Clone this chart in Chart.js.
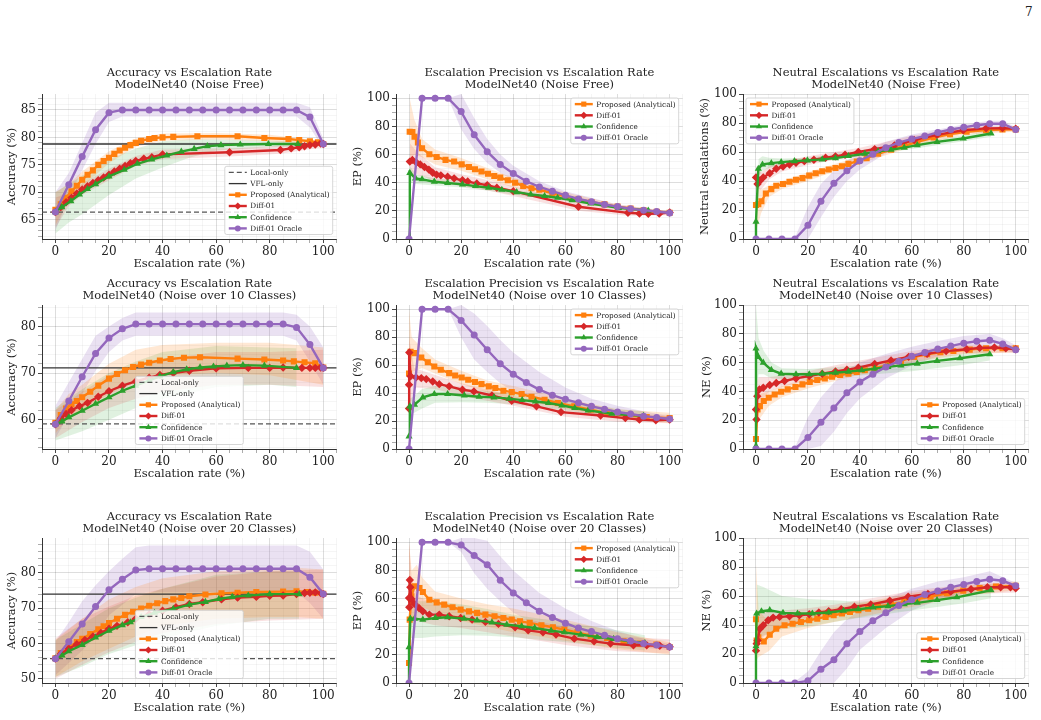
<!DOCTYPE html>
<html>
<head>
<meta charset="utf-8">
<title>ModelNet40 escalation results</title>
<script src="https://cdn.jsdelivr.net/npm/chart.js@4.4.1/dist/chart.umd.min.js"></script>
<style>
  body { margin: 0; background: #fff; }
  #page { position: relative; width: 1041px; height: 720px; overflow: hidden; }
  #page canvas { position: absolute; }
  #pageNo { position: absolute; left: 1025px; top: 5px; font: 12px "DejaVu Serif", serif; color: #222; }
</style>
</head>
<body>
<div id="page">
  <div id="pageNo">7</div>
</div>
<script>
// ---- data (x = escalation rate %) ----
// bands are [x, lower, upper]

const oracleX = [0, 5, 10, 15, 20, 25, 30, 35, 40, 45, 50, 55, 60, 65, 70, 75, 80, 85, 90, 95, 100];

// Noise free - accuracy
const nfAccLocal = 66.4;
const nfAccVfl = 78.8;
const nfAccPropX = [0, 2, 4, 6, 8, 10, 12, 14, 16, 18, 20, 22, 24, 26, 28, 30, 32, 35, 37, 40, 44, 53, 68, 78, 87, 91, 95, 98, 100];
const nfAccPropY = [66.8, 67.8, 69.0, 70.2, 71.2, 72.3, 73.2, 74.0, 75.0, 75.7, 76.3, 77.0, 77.6, 78.1, 78.6, 79.0, 79.4, 79.7, 79.9, 80.0, 80.1, 80.2, 80.2, 79.9, 79.7, 79.5, 79.3, 79.1, 78.8];
const nfAccPropBand = [[0, 64, 70], [5, 68.5, 71.5], [10, 71, 73.8], [20, 75.3, 77.5], [30, 78.3, 79.8], [40, 79.4, 80.7], [60, 79.6, 80.8], [80, 79.3, 80.5], [100, 78.3, 79.3]];
const nfAccDiffX = [0, 2, 4, 6, 8, 10, 12, 14, 16, 18, 20, 22, 24, 26, 28, 30, 33, 36, 40, 65, 84, 88, 91, 93, 95, 97, 99, 100];
const nfAccDiffY = [66.4, 67.3, 68.2, 69.0, 69.8, 70.5, 71.1, 71.7, 72.2, 72.7, 73.2, 73.8, 74.3, 74.8, 75.3, 75.7, 76.1, 76.4, 76.9, 77.3, 77.7, 78.0, 78.2, 78.4, 78.6, 78.7, 78.9, 78.8];
const nfAccDiffBand = [[0, 63.5, 69], [5, 67.5, 70], [10, 69.5, 71.6], [20, 72.2, 74.3], [30, 74.8, 76.6], [40, 76, 77.8], [65, 76.5, 78], [84, 77, 78.5], [100, 78.2, 79.4]];
const nfAccConfX = [0, 2.4, 5.8, 9, 12, 15, 20, 25.7, 30.6, 36, 41.6, 47, 51.8, 56.7, 61.8, 69, 79.5, 90.5];
const nfAccConfY = [66.4, 67.3, 68.4, 69.6, 70.6, 71.5, 72.9, 74.1, 75.2, 76.0, 76.7, 77.4, 77.9, 78.4, 78.6, 78.7, 78.8, 78.8];
const nfAccConfBand = [[0, 62.5, 70], [5, 64.5, 71.5], [10, 66, 73], [20, 69.5, 76], [30, 72.5, 78], [40, 74.5, 79.3], [50, 76.3, 79.6], [60, 77.6, 79.6], [80, 78.2, 79.4], [90.5, 78.3, 79.3]];
const nfAccOracY = [66.4, 71.4, 76.5, 81.4, 84.5, 85, 85, 85, 85, 85, 85, 85, 85, 85, 85, 85, 85, 85, 85, 83.7, 78.8];
const nfAccOracBand = [[0, 63, 70], [5, 69, 73.5], [10, 74, 79], [15, 78.8, 84.5], [20, 82.8, 86.3], [25, 83.8, 86.3], [90, 83.8, 86.3], [95, 81.8, 85.5], [100, 78, 79.8]];

// Noise free - escalation precision
const nfEpPropX = [0.25, 1.3, 2.1, 3.4, 5, 7.8, 10.6, 14, 17.3, 20.2, 23, 25.3, 27.8, 30.3, 32.7, 35, 37.9, 40.7, 43.8, 47, 50, 55, 60, 65, 70, 75, 80, 85, 90, 95, 100];
const nfEpPropY = [76.2, 76, 72.6, 68.6, 64.5, 60.2, 58.3, 56.2, 55, 53, 51.2, 49.5, 47.9, 46.4, 44.8, 43.6, 41.7, 40, 37.6, 36, 35, 32.5, 30.3, 28.2, 26.3, 24.6, 23, 21.7, 20.4, 19.4, 18.6];
const nfEpPropBand = [[0.25, 55, 100], [2, 60, 85], [5, 58, 71], [10, 53, 63.5], [20, 48.5, 57.5], [30, 42.5, 50.5], [40, 36.5, 43.5], [60, 28, 33], [80, 21.5, 24.5], [100, 17.5, 19.7]];
const nfEpDiffX = [0.3, 1.3, 2.8, 4.3, 5.9, 7.6, 9.1, 10.6, 12.2, 14.8, 17.3, 20.5, 22.5, 26, 30, 33.7, 40, 65, 84, 88.4, 91.8, 96, 100];
const nfEpDiffY = [55, 56.2, 54.3, 53, 51.2, 49.3, 47.1, 45.7, 45.2, 44.3, 43.1, 41.7, 40.8, 39.5, 38.3, 36.4, 34, 22.9, 18.6, 18.1, 17.9, 18, 18.8];
const nfEpDiffBand = [[0.3, 45, 68], [3, 46, 62], [10, 41, 51], [20, 37.5, 46], [30, 34.5, 42], [40, 30.5, 37.5], [65, 20, 26], [84, 16.5, 21], [100, 16.8, 20.5]];
const nfEpConfX = [0, 0.3, 2.5, 5, 9.7, 14.8, 20.5, 25.5, 30.5, 35.6, 41.3, 46.7, 52, 57, 62.5, 69.7, 80.4, 91.8];
const nfEpConfY = [0, 47, 43, 42.4, 40.7, 39.8, 38.8, 37.6, 36.4, 35, 33.3, 31.7, 30.5, 29.3, 27.6, 25.2, 22.1, 20.2];
const nfEpConfBand = [[0.3, 40, 52], [2.5, 39, 46], [10, 38, 43], [20, 36.5, 41.5], [30, 34.5, 38.5], [40, 31.5, 35], [60, 27, 30.5], [80, 21, 23.5], [91.8, 19, 21.5]];
const nfEpOracY = [0, 100, 100, 100, 90.5, 74, 62, 53, 46.5, 41, 37, 34, 31, 28.5, 26.5, 24.5, 23, 21.5, 20.5, 19.5, 18.5];
const nfEpOracBand = [[15, 100, 100], [20, 78, 103], [25, 64, 86], [30, 54, 71], [35, 47, 60], [40, 41.5, 52], [50, 33.5, 41], [60, 28.5, 34], [80, 21.5, 24.5], [100, 17.5, 19.5]];

// Noise free - neutral escalations
const nfNePropX = [0, 0.9, 2.1, 3.8, 5.9, 7.8, 10.4, 12.9, 15.4, 17.9, 20.5, 23, 25.5, 28, 30.6, 33.1, 35.6, 38.8, 42.6, 47, 52, 57.1, 62.1, 68.4, 74.7, 81.1, 88.6, 94.9, 100];
const nfNePropY = [23.5, 24, 26, 31.4, 34.4, 36.7, 37.9, 39.5, 40.9, 42, 43.7, 45.3, 46.7, 47.9, 49, 50.2, 51.8, 53.5, 55.8, 58.8, 61.6, 64.2, 67, 70, 72.3, 74, 75.1, 75.5, 75.6];
const nfNePropBand = [[0, 5, 40], [2, 18, 34], [5, 29, 37], [10, 34.5, 40], [20, 40, 46], [30, 46.5, 51.5], [40, 52, 57], [60, 63.5, 68], [80, 72, 76], [100, 74, 77]];
const nfNeDiffX = [0, 0.6, 1.5, 2.8, 5.3, 7.8, 10.4, 12.9, 15.4, 18.6, 22.3, 26.8, 30.6, 34.3, 39.4, 45.7, 53.3, 60.9, 69.7, 79.8, 88.6, 94.9, 100];
const nfNeDiffY = [42.5, 37.9, 40.2, 42.5, 45.3, 48.4, 50, 51.4, 52.6, 53.7, 54.7, 56, 57, 58.1, 60, 62, 64.5, 68.3, 71.8, 75, 76.3, 76.5, 76];
const nfNeDiffBand = [[0, 35, 50], [2, 34, 46], [5, 41, 50], [10, 46.5, 53.5], [20, 51, 57], [30, 54.5, 60], [40, 57, 63], [60, 65.5, 71], [80, 73, 77.5], [100, 74.5, 78]];
const nfNeConfX = [0, 0, 0.9, 2.5, 5.9, 9.7, 14.8, 19.8, 25.5, 30.6, 35.6, 41.9, 47, 52, 57.1, 62.1, 69.7, 79.8, 90.5];
const nfNeConfY = [0, 12, 48.4, 51.4, 52.3, 53, 53.7, 54.2, 54.9, 55.8, 57.2, 58.8, 60.5, 61.6, 63, 64.7, 67, 69.3, 72.8];
const nfNeConfBand = [[0.9, 43, 55], [2.5, 47, 57], [5, 49, 56], [10, 51, 55.5], [20, 52.3, 56], [40, 57, 61], [60, 62, 66], [80, 67.5, 71.5], [90.5, 70.5, 75]];
const nfNeOracY = [0, 0, 0, 0, 9.5, 26, 38.5, 47, 54, 58.5, 63, 66.5, 69, 71, 73.5, 75.5, 77, 78.5, 79.5, 79.5, 75.5];
const nfNeOracBand = [[15, 0, 1], [20, 0, 22], [25, 15, 38], [30, 29, 47], [35, 40, 54], [40, 48, 60], [50, 59, 67], [60, 66, 72], [80, 75, 79], [90, 77.5, 81.5], [95, 77.5, 81.5], [100, 74, 77]];

// Noise over 10 classes - accuracy
const n10AccLocal = 59.1;
const n10AccVfl = 71.1;
const n10AccPropX = [0, 2, 4, 6, 8, 10, 13, 16, 20, 23, 26, 29, 32, 35, 39, 43, 48, 54, 68, 78, 85, 89, 93, 97, 100];
const n10AccPropY = [59.3, 61.0, 62.4, 63.3, 64.0, 64.8, 66.0, 67.3, 68.8, 69.8, 70.6, 71.3, 71.8, 72.2, 72.7, 73.0, 73.3, 73.4, 73.1, 72.9, 72.7, 72.5, 72.3, 72.1, 71.2];
const n10AccPropBand = [[0, 57, 62], [5, 60.5, 65.5], [10, 62, 67.5], [20, 65.5, 72], [30, 68, 75], [40, 69.5, 76], [60, 70, 76.5], [80, 69.5, 76.5], [90, 68.5, 76], [100, 67.5, 75.5]];
const n10AccDiffX = [0, 2, 4, 6, 9, 12, 16, 20, 25, 30, 35, 39, 44, 50, 60, 72, 80, 85, 92, 95, 97, 99, 100];
const n10AccDiffY = [59, 60.3, 61.2, 62, 62.9, 63.6, 64.9, 66.1, 67.3, 68.2, 69, 69.6, 70, 70.5, 71, 71.1, 71.1, 71.2, 71.1, 71.1, 71.1, 71.2, 71.1];
const n10AccDiffBand = [[0, 56, 62], [10, 59.5, 66], [20, 62.5, 69.5], [30, 64.5, 72], [40, 66, 73], [60, 67.5, 74.5], [80, 67.5, 74.5], [100, 67, 75]];
const n10AccConfX = [0, 2.5, 5, 10, 15, 20, 25, 30, 35, 39, 44, 49, 54, 59, 64, 70, 78, 90];
const n10AccConfY = [59, 59.6, 60.5, 61.9, 63.4, 64.8, 66.2, 67.3, 68.4, 69.3, 70.2, 70.8, 71.2, 71.4, 71.6, 71.7, 71.6, 71.1];
const n10AccConfBand = [[0, 55.5, 62.5], [10, 57.5, 66.5], [20, 60, 70], [30, 62.5, 72.5], [40, 64.5, 74.5], [60, 67, 75.8], [80, 67.5, 75.5], [90, 67, 75.3]];
const n10AccOracY = [59, 64, 69.2, 74.2, 77.5, 79.5, 80.5, 80.5, 80.5, 80.5, 80.5, 80.5, 80.5, 80.5, 80.5, 80.5, 80.5, 80.5, 79.8, 76.1, 71.1];
const n10AccOracBand = [[0, 56, 63], [5, 61, 68], [10, 65.5, 73], [15, 70.5, 78], [20, 74.5, 80], [25, 77, 81.8], [30, 78, 83], [85, 78, 83], [90, 77, 82.5], [95, 72.5, 80], [100, 67.5, 75.5]];

// Noise over 10 classes - escalation precision
const n10EpPropX = [0, 0.6, 2.1, 4.7, 7.2, 9.7, 12.2, 15.4, 17.7, 20.2, 22.7, 25.3, 27.8, 30.6, 33.1, 36.2, 39.4, 43.2, 47, 52, 57.1, 63.4, 69.7, 76, 83.6, 91.2, 100];
const n10EpPropY = [54, 69.6, 68.6, 65.5, 62.1, 59, 56.7, 54.3, 52.6, 51.2, 49.5, 47.9, 46.4, 44.8, 43.6, 41.7, 40.7, 39.3, 37.4, 35.2, 32.9, 30.5, 28.1, 25.7, 24, 22.9, 22.1];
const n10EpPropBand = [[0, 40, 100], [1, 55, 80], [5, 58, 72], [10, 54, 64], [20, 46.5, 56], [30, 40.5, 49], [40, 36, 45], [60, 29, 36], [80, 22, 28.5], [100, 18.5, 26]];
const n10EpDiffX = [0, 0, 0.1, 0.6, 2.7, 4.7, 6.6, 9.1, 11.6, 15.4, 20.5, 24.9, 31.8, 39.4, 48.9, 58.3, 73.5, 83, 88.4, 94.7, 100];
const n10EpDiffY = [29, 46, 69, 52, 51.2, 50.7, 50, 48.3, 46.4, 44.8, 42.4, 41.2, 38.3, 34.5, 30.5, 26.4, 24, 22.1, 21, 20.5, 21];
const n10EpDiffBand = [[0, 25, 80], [2, 44, 58], [10, 43, 53], [20, 38, 47], [30, 34.5, 42.5], [40, 31, 38], [60, 23, 29.5], [80, 19.5, 25], [100, 18.5, 24]];
const n10EpConfX = [0, 0.3, 2.1, 5.3, 9.7, 14.8, 21.2, 26.9, 32.6, 38.4, 43.4, 48.5, 53.5, 58.6, 63.6, 68.7, 77.8, 90];
const n10EpConfY = [9, 30.5, 31.7, 36.9, 39.3, 39.3, 38.3, 37.4, 36.9, 36, 35, 34, 32.9, 31.2, 29.3, 27.6, 25.2, 23.8];
const n10EpConfBand = [[0.3, 25, 36], [2, 26, 38], [5, 29, 43], [10, 33, 45], [20, 33.5, 43.5], [30, 33, 41.5], [40, 32, 39.5], [60, 27.5, 34.5], [80, 22, 28.5], [90, 20, 27]];
const n10EpOracY = [0, 100, 100, 100, 92, 81.5, 71, 61, 53.5, 47.5, 42.5, 38.5, 35.5, 33, 30.5, 28.5, 26.5, 25, 23.5, 22.5, 21.5];
const n10EpOracBand = [[15, 100, 100], [20, 80, 103], [25, 64, 97], [30, 55, 88], [35, 47, 78], [40, 41, 69], [50, 34, 55], [60, 29.5, 44], [70, 26.5, 36], [80, 24, 31], [90, 21.5, 27], [100, 20, 23.5]];

// Noise over 10 classes - neutral escalations
const n10NePropX = [0, 0.6, 1.5, 3, 4.9, 7.2, 9.7, 12.2, 15.2, 17.9, 20.7, 23.6, 26.5, 29.3, 32.4, 35.6, 38.8, 41.9, 45.7, 50.8, 55.8, 60.9, 65.9, 71, 76, 82.3, 88.6, 94.9, 100];
const n10NePropY = [7, 27.4, 29.8, 33.3, 35.6, 37.9, 39.8, 41.4, 43, 44.9, 46.5, 47.9, 49, 50.2, 51.4, 52.3, 53.5, 54.7, 56, 58.4, 61.2, 64, 65.8, 67.2, 68.1, 69, 70, 70, 70];
const n10NePropBand = [[0, 15, 45], [1, 20, 38], [5, 30, 40], [10, 36, 43.5], [20, 42, 49.5], [30, 47, 53], [40, 51.5, 56.5], [60, 60, 66], [80, 66, 71], [100, 67, 72]];
const n10NeDiffX = [0, 0.2, 0.5, 1.3, 2.8, 5.3, 7.8, 11, 15.4, 20.5, 25.5, 30.6, 35, 39.4, 45.7, 52, 58.8, 65.9, 73.2, 81.1, 86.1, 91.8, 96.2, 100];
const n10NeDiffY = [27.4, 20.5, 36.7, 41.4, 42.5, 44.4, 45.8, 47.2, 49, 50.7, 52.3, 53.8, 55, 56.5, 59, 61.5, 64, 66.2, 68, 69.3, 70.2, 70.5, 70, 69.3];
const n10NeDiffBand = [[0, 15, 45], [1, 30, 50], [5, 40, 50], [10, 43, 51], [20, 47.5, 54], [30, 51, 58], [40, 54.5, 61.5], [60, 61.5, 68], [80, 66.5, 72.5], [100, 67, 72]];
const n10NeConfX = [0, 0, 0.9, 2.8, 5.9, 9.7, 15.4, 20.5, 25.5, 30.6, 35.6, 40.7, 45.7, 50.8, 55.8, 62.1, 69.7, 78.5, 90];
const n10NeConfY = [2, 69.8, 64, 60, 54.9, 52.3, 51.9, 51.9, 52.3, 53, 53.7, 54.7, 55.8, 57, 58.1, 59.3, 61.2, 63, 65.8];
const n10NeConfBand = [[0, 40, 100], [1, 52, 77], [3, 52, 68], [6, 49, 60], [10, 48.5, 56], [20, 48.5, 55.5], [40, 51, 58], [60, 54, 61.5], [80, 58.5, 66.5], [90, 61.5, 70]];
const n10NeOracY = [0, 0, 0, 0, 8, 18.5, 28.5, 39, 46.5, 52, 57, 61, 64.5, 67, 69.5, 71.5, 73.5, 74.8, 75.5, 73, 69];
const n10NeOracBand = [[15, 0, 1], [20, 0, 22], [25, 2, 36], [30, 12, 46], [35, 25, 55], [40, 35, 60], [50, 49, 66], [60, 58, 71], [70, 64.5, 75], [80, 69, 78.5], [90, 71, 80], [95, 69, 77], [100, 66.5, 72]];

// Noise over 20 classes - accuracy
const n20AccLocal = 55.7;
const n20AccVfl = 74.0;
const n20AccPropX = [0, 2, 5, 8, 10, 13, 16, 18, 20, 23, 26, 29, 32, 35, 38, 41, 44, 47, 50, 56, 62, 68, 75, 85, 90, 94, 97, 100];
const n20AccPropY = [55.8, 57.3, 58.9, 60.4, 61.3, 62.7, 64.0, 64.9, 65.8, 67.0, 68.1, 69.0, 69.9, 70.7, 71.4, 72.0, 72.5, 72.9, 73.4, 73.9, 74.2, 74.4, 74.6, 74.7, 74.8, 74.6, 74.4, 74.1];
const n20AccPropBand = [[0, 50.5, 61], [10, 55, 67], [20, 58.5, 72.5], [30, 62, 76], [40, 65, 78.5], [60, 67, 80.5], [80, 67.5, 81], [90, 67.5, 81.5], [100, 67, 81]];
const n20AccDiffX = [0, 2, 5, 8, 11, 14, 17, 20, 23, 27, 30, 35, 40, 45, 50, 55, 62, 68, 75, 80, 85, 90, 93, 95, 97, 99, 100];
const n20AccDiffY = [55.7, 57, 58.5, 59.8, 61, 62, 63, 64.2, 65, 66, 67, 68.2, 69.3, 70.3, 71.2, 71.7, 72.5, 73, 73.2, 73.5, 73.6, 74, 74.3, 74.4, 74.5, 74.3, 74];
const n20AccDiffBand = [[0, 50, 61.5], [10, 54, 67], [20, 57.5, 70.5], [30, 60.5, 73.5], [40, 63, 75.5], [60, 65.5, 79], [80, 66.5, 80.5], [100, 67, 81]];
const n20AccConfX = [0, 2.5, 5, 10, 15, 20, 25, 28, 32, 37, 44, 50, 56, 61, 66, 72, 80, 91];
const n20AccConfY = [55.7, 56.6, 57.8, 59.6, 61.7, 63.6, 65.2, 66, 67.5, 68.7, 69.8, 71, 71.8, 72.6, 73.2, 73.6, 74, 74];
const n20AccConfBand = [[0, 50.5, 61], [10, 53.5, 65.5], [20, 57, 70], [30, 59.5, 73], [40, 61.5, 75.5], [60, 65, 79.5], [80, 67, 80.5], [91, 67, 80.5]];
const n20AccOracY = [55.7, 60.5, 65.5, 70.5, 75.2, 78.2, 80.8, 81.2, 81.2, 81.2, 81.2, 81.2, 81.2, 81.2, 81.2, 81.2, 81.2, 81.2, 81.2, 78.8, 74];
const n20AccOracBand = [[0, 51, 60.5], [5, 54.5, 66], [10, 58, 72], [15, 62, 76.5], [20, 68, 80.5], [25, 71, 84], [30, 74, 87.3], [35, 74.5, 87.8], [90, 74.5, 87.8], [95, 71.5, 86], [100, 67, 81]];

// Noise over 20 classes - escalation precision
const n20EpPropX = [0, 0.25, 0.9, 2.1, 4, 5.3, 7.8, 10.6, 13.5, 16.7, 19.8, 23, 26.1, 29.3, 32.8, 36.2, 39.4, 42.6, 46.3, 50.8, 55.2, 59.6, 64.6, 69.7, 76, 82.3, 88.6, 94.9, 100];
const n20EpPropY = [14.2, 45, 61.6, 68.7, 67.5, 64.7, 59.2, 57.3, 55.7, 53.8, 52.1, 50.9, 49.8, 48.6, 47.4, 46.2, 45, 43.8, 42.7, 41, 39.6, 37.9, 36, 33.6, 32, 29.6, 28, 27.3, 25.6];
const n20EpPropBand = [[0, 0, 100], [1, 40, 80], [3, 52, 84], [5, 54, 75], [10, 50, 65], [20, 44, 60], [30, 40, 56], [40, 36, 53], [60, 30, 45], [80, 24, 36], [100, 20, 29]];
const n20EpDiffX = [0, 0.1, 0.3, 0.5, 0.9, 2.1, 3.8, 5.3, 7.8, 11.6, 15.4, 19.8, 24.2, 29.3, 34.3, 40.7, 45.7, 51.4, 56.4, 63.4, 71, 77.3, 86.1, 91.2, 96.2, 100];
const n20EpDiffY = [60.4, 53.8, 73.2, 68, 59.7, 56.2, 53.3, 50.9, 48.6, 48.6, 47.4, 46.2, 45, 43.4, 42, 39.6, 37.4, 36, 34.4, 31.5, 29.6, 28, 26.8, 26.8, 26.5, 25.8];
const n20EpDiffBand = [[0, 40, 100], [1, 45, 75], [3, 44, 62], [10, 41, 56], [20, 39, 53], [30, 36, 51], [40, 33, 47], [60, 27, 40], [80, 22.5, 33], [100, 21, 31]];
const n20EpConfX = [0, 0, 0.5, 2.1, 5.3, 10.1, 14.8, 21.1, 26.1, 31.8, 37.5, 43.2, 48.2, 54.5, 59.6, 65.9, 72.2, 78.5, 84.8, 90.5];
const n20EpConfY = [0, 25.4, 45.7, 45.7, 45, 46.2, 46.7, 45.7, 44.5, 43.1, 41.5, 40.3, 39.1, 37.2, 36, 34.4, 32.7, 31.3, 29.6, 28.4];
const n20EpConfBand = [[0.5, 32, 58], [5, 32, 58], [10, 33, 58], [20, 34, 56], [30, 33.5, 52.5], [40, 32.5, 48.5], [60, 29, 43], [80, 25, 37.5], [90.5, 23, 34]];
const n20EpOracY = [0, 100, 100, 100, 98, 90.5, 84, 73, 64, 57, 51, 46.5, 42.5, 39, 36.5, 34, 31.5, 29.8, 28, 27, 25.5];
const n20EpOracBand = [[15, 100, 100], [20, 93, 103], [25, 78, 103], [30, 67, 101], [35, 58, 90], [40, 50, 80], [50, 40, 64], [60, 34, 53], [70, 30, 44], [80, 27, 37], [90, 25, 31.5], [100, 23.5, 27.5]];

// Noise over 20 classes - neutral escalations
const n20NePropX = [0, 0.25, 0.9, 3, 5.3, 7.8, 11, 14.1, 17.3, 20.5, 23.6, 26.8, 29.9, 33.1, 36.2, 39.4, 43.2, 47, 52, 57.1, 62.1, 67.2, 73.5, 79.8, 86.1, 92.4, 100];
const n20NePropY = [44, 29.3, 31.6, 28.6, 33.3, 37.4, 39.8, 40.9, 42.1, 43.3, 44.4, 45.6, 46.7, 47.9, 49, 50.2, 51.2, 52.6, 54.2, 56, 57.9, 59.5, 61.9, 63.7, 65.5, 66.5, 67];
const n20NePropBand = [[0, 15, 82], [1, 18, 50], [5, 22, 42], [10, 32, 46], [20, 38, 49], [30, 42, 52], [40, 45.5, 55], [60, 52.5, 62], [80, 60, 67], [100, 64, 70]];
const n20NeDiffX = [0, 0.25, 0.6, 1.5, 2.8, 4.7, 6.6, 9.1, 12.9, 16.7, 20.5, 24.2, 28, 32.8, 37.9, 44.2, 51.5, 58.6, 66.2, 75, 82.8, 89.1, 94.2, 98, 100];
const n20NeDiffY = [22.3, 27, 29.3, 37.4, 39.8, 43.3, 45.1, 45.6, 46, 46.7, 47.4, 48.6, 49.5, 50.9, 52.6, 54.2, 56.7, 59.5, 61.4, 63, 64.7, 66, 66, 66, 65.3];
const n20NeDiffBand = [[0, 15, 35], [1, 28, 50], [3, 32, 50], [10, 40, 50], [20, 43, 51.5], [30, 46, 54], [40, 49, 57], [60, 55.5, 63.5], [80, 61, 68], [100, 62.5, 69]];
const n20NeConfX = [0, 0, 0.25, 2.1, 5.3, 10.4, 16, 21.7, 28, 33.7, 39.4, 45.1, 50.8, 57.1, 62.1, 69.7, 77.3, 90.5];
const n20NeConfY = [0, 25.3, 47.9, 49.5, 50.2, 48.4, 47.9, 47.9, 48.6, 49.8, 50.9, 52.1, 53, 54.4, 55.3, 57.2, 59.1, 64];
const n20NeConfBand = [[0.25, 30, 68], [3, 33, 66], [10, 37, 60], [20, 39, 58], [30, 42, 57], [40, 45, 56], [60, 50, 59], [80, 55, 63], [90.5, 58.5, 68]];
const n20NeOracY = [0, 0, 0, 0, 1.5, 9.5, 16, 27, 35.5, 43, 48.5, 53.5, 57.5, 61, 63.5, 66, 68, 70, 71.5, 70.5, 67];
const n20NeOracBand = [[15, 0, 1], [20, 0, 8], [25, 0, 22], [30, 0, 35], [35, 10, 44], [40, 23, 50], [50, 38, 58], [60, 50, 65], [70, 57, 70], [80, 62, 73], [90, 66, 77], [100, 65, 69]];

// ---- styling / layout ----
const FONT = '"DejaVu Serif", "Liberation Serif", serif';

const SERIES = [
    { label: "Proposed (Analytical)", color: "#ff7f0e", band: "rgba(255,127,14,0.18)", style: "rect", r: 4.3, order: 4 },
    { label: "Diff-01", color: "#d62728", band: "rgba(214,39,40,0.14)", style: "rectRot", r: 4.2, order: 3 },
    { label: "Confidence", color: "#2ca02c", band: "rgba(44,160,44,0.15)", style: "triangle", r: 4.1, order: 2 },
    { label: "Diff-01 Oracle", color: "#9467bd", band: "rgba(148,103,189,0.2)", style: "circle", r: 3.5, order: 1 },
];

const COLS = [
    { left: 0, yW: 42, w: 299 },
    { left: 350, yW: 46, w: 291 },
    { left: 696, yW: 47, w: 290 },
];
const ROWS = [
    { plotTop: 94, h: 145 },
    { plotTop: 305, h: 144 },
    { plotTop: 538, h: 145 },
];
const TITLE_H = 34;
const XAXIS_H = 36;

const PANELS = [
    {
        row: 0, col: 0, title: ["Accuracy vs Escalation Rate", "ModelNet40 (Noise Free)"],
        yTitle: "Accuracy (%)", yPad: 4.8, y: [61.5, 87.9, 5, 1], legend: "lower right", refs: [nfAccLocal, nfAccVfl],
        series: [[nfAccPropX, nfAccPropY, nfAccPropBand], [nfAccDiffX, nfAccDiffY, nfAccDiffBand], [nfAccConfX, nfAccConfY, nfAccConfBand], [oracleX, nfAccOracY, nfAccOracBand]],
    },
    {
        row: 0, col: 1, title: ["Escalation Precision vs Escalation Rate", "ModelNet40 (Noise Free)"],
        yTitle: "EP (%)", yPad: 1.4, y: [0, 103, 20, 5], legend: "upper right",
        series: [[nfEpPropX, nfEpPropY, nfEpPropBand], [nfEpDiffX, nfEpDiffY, nfEpDiffBand], [nfEpConfX, nfEpConfY, nfEpConfBand], [oracleX, nfEpOracY, nfEpOracBand]],
    },
    {
        row: 0, col: 2, title: ["Neutral Escalations vs Escalation Rate", "ModelNet40 (Noise Free)"],
        yTitle: "Neutral escalations (%)", yPad: 2.1, y: [0, 100, 20, 5], legend: "upper left",
        series: [[nfNePropX, nfNePropY, nfNePropBand], [nfNeDiffX, nfNeDiffY, nfNeDiffBand], [nfNeConfX, nfNeConfY, nfNeConfBand], [oracleX, nfNeOracY, nfNeOracBand]],
    },
    {
        row: 1, col: 0, title: ["Accuracy vs Escalation Rate", "ModelNet40 (Noise over 10 Classes)"],
        yTitle: "Accuracy (%)", yPad: 4.8, y: [53.7, 84.6, 10, 2], legend: "lower center", refs: [n10AccLocal, n10AccVfl],
        series: [[n10AccPropX, n10AccPropY, n10AccPropBand], [n10AccDiffX, n10AccDiffY, n10AccDiffBand], [n10AccConfX, n10AccConfY, n10AccConfBand], [oracleX, n10AccOracY, n10AccOracBand]],
    },
    {
        row: 1, col: 1, title: ["Escalation Precision vs Escalation Rate", "ModelNet40 (Noise over 10 Classes)"],
        yTitle: "EP (%)", yPad: 1.4, y: [0, 103, 20, 5], legend: "upper right",
        series: [[n10EpPropX, n10EpPropY, n10EpPropBand], [n10EpDiffX, n10EpDiffY, n10EpDiffBand], [n10EpConfX, n10EpConfY, n10EpConfBand], [oracleX, n10EpOracY, n10EpOracBand]],
    },
    {
        row: 1, col: 2, title: ["Neutral Escalations vs Escalation Rate", "ModelNet40 (Noise over 10 Classes)"],
        yTitle: "NE (%)", yPad: 3.8, y: [0, 100, 20, 5], legend: "lower right",
        series: [[n10NePropX, n10NePropY, n10NePropBand], [n10NeDiffX, n10NeDiffY, n10NeDiffBand], [n10NeConfX, n10NeConfY, n10NeConfBand], [oracleX, n10NeOracY, n10NeOracBand]],
    },
    {
        row: 2, col: 0, title: ["Accuracy vs Escalation Rate", "ModelNet40 (Noise over 20 Classes)"],
        yTitle: "Accuracy (%)", yPad: 4.8, y: [48.8, 89.9, 10, 2], legend: "lower center", refs: [n20AccLocal, n20AccVfl],
        series: [[n20AccPropX, n20AccPropY, n20AccPropBand], [n20AccDiffX, n20AccDiffY, n20AccDiffBand], [n20AccConfX, n20AccConfY, n20AccConfBand], [oracleX, n20AccOracY, n20AccOracBand]],
    },
    {
        row: 2, col: 1, title: ["Escalation Precision vs Escalation Rate", "ModelNet40 (Noise over 20 Classes)"],
        yTitle: "EP (%)", yPad: 1.4, y: [0, 103, 20, 5], legend: "upper right",
        series: [[n20EpPropX, n20EpPropY, n20EpPropBand], [n20EpDiffX, n20EpDiffY, n20EpDiffBand], [n20EpConfX, n20EpConfY, n20EpConfBand], [oracleX, n20EpOracY, n20EpOracBand]],
    },
    {
        row: 2, col: 2, title: ["Neutral Escalations vs Escalation Rate", "ModelNet40 (Noise over 20 Classes)"],
        yTitle: "NE (%)", yPad: 3.8, y: [0, 100, 20, 5], legend: "lower right",
        series: [[n20NePropX, n20NePropY, n20NePropBand], [n20NeDiffX, n20NeDiffY, n20NeDiffBand], [n20NeConfX, n20NeConfY, n20NeConfBand], [oracleX, n20NeOracY, n20NeOracBand]],
    },
];

// ---- helpers ----
function tickList(min, max, step) {
    const out = [];
    for (let k = Math.ceil(min / step - 1e-9); k * step <= max + 1e-9; k++) {
        out.push({ value: Math.round(k * step * 1000) / 1000 });
    }
    return out;
}

function axis(min, max, major, minor, titleText, titlePad, size, horizontal) {
    const isMajor = (v) => Math.abs(v / major - Math.round(v / major)) < 1e-6;
    return {
        type: "linear",
        min: min,
        max: max,
        afterBuildTicks: (scale) => {
            scale.ticks = tickList(min, max, minor);
        },
        afterFit: (scale) => {
            if (horizontal) scale.height = size;
            else scale.width = size;
        },
        ticks: {
            autoSkip: false,
            maxRotation: 0,
            padding: 2,
            color: "#222",
            font: { family: FONT, size: 12 },
            callback: (v) => (isMajor(v) ? String(v) : ""),
        },
        grid: {
            color: (c) => (c.tick && isMajor(c.tick.value) ? "rgba(0,0,0,0.15)" : "rgba(0,0,0,0.06)"),
            lineWidth: (c) => (c.tick && isMajor(c.tick.value) ? 0.9 : 0.7),
            tickLength: 4,
            tickColor: (c) => (c.tick && isMajor(c.tick.value) ? "#333" : "#888"),
        },
        border: { display: true, color: "#333", width: 1 },
        title: {
            display: true,
            text: titleText,
            color: "#222",
            font: { family: FONT, size: 11.5 },
            padding: horizontal ? { top: 0, bottom: titlePad } : { top: titlePad, bottom: 0 },
        },
    };
}

function drawMarker(ctx, style, x, y, r) {
    ctx.beginPath();
    if (style === "rect") {
        const s = r * Math.SQRT1_2;
        ctx.rect(x - s, y - s, 2 * s, 2 * s);
    } else if (style === "rectRot") {
        ctx.moveTo(x, y - r);
        ctx.lineTo(x + r, y);
        ctx.lineTo(x, y + r);
        ctx.lineTo(x - r, y);
        ctx.closePath();
    } else if (style === "triangle") {
        for (let i = 0; i < 3; i++) {
            const a = (i * 2 * Math.PI) / 3;
            const px = x + Math.sin(a) * r;
            const py = y - Math.cos(a) * r;
            if (i === 0) ctx.moveTo(px, py);
            else ctx.lineTo(px, py);
        }
        ctx.closePath();
    } else {
        ctx.arc(x, y, r, 0, Math.PI * 2);
    }
    ctx.fill();
}

// legend drawn inside the plot like matplotlib's boxed legend
const boxLegend = {
    id: "boxLegend",
    afterDraw(chart, args, opts) {
        const items = chart.data.datasets.filter((d) => d.label);
        const ctx = chart.ctx;
        const a = chart.chartArea;
        const rowH = 11.2, padL = 4, sample = 18, gap = 3.5, padR = 3;

        ctx.save();
        ctx.font = "7.3px " + FONT;
        const textW = Math.max(...items.map((d) => ctx.measureText(d.label).width));
        const w = padL + sample + gap + textW + padR;
        const h = items.length * rowH + 1;

        let x = a.right - w - 4;
        let y = a.bottom - h - 4.5;
        if (opts.loc === "upper right") y = a.top + 4;
        if (opts.loc === "upper left") {
            x = a.left + 3;
            y = a.top + 4;
        }
        if (opts.loc === "lower center") x = (a.left + a.right - w) / 2;

        ctx.beginPath();
        ctx.roundRect(x, y, w, h, 2);
        ctx.fillStyle = "rgba(255,255,255,0.82)";
        ctx.fill();
        ctx.strokeStyle = "#cccccc";
        ctx.lineWidth = 0.8;
        ctx.stroke();

        items.forEach((d, i) => {
            const cy = y + 0.5 + rowH * (i + 0.5);
            ctx.setLineDash(d.borderDash || []);
            ctx.strokeStyle = d.borderColor;
            ctx.lineWidth = d.borderWidth;
            ctx.beginPath();
            ctx.moveTo(x + padL, cy);
            ctx.lineTo(x + padL + sample, cy);
            ctx.stroke();
            ctx.setLineDash([]);
            if (d.pointRadius > 0) {
                ctx.fillStyle = d.borderColor;
                drawMarker(ctx, d.pointStyle, x + padL + sample / 2, cy, d.pointRadius * 0.85);
            }
            ctx.fillStyle = "#222";
            ctx.textBaseline = "middle";
            ctx.textAlign = "left";
            ctx.fillText(d.label, x + padL + sample + gap, cy + 0.5);
        });
        ctx.restore();
    },
};

Chart.register(boxLegend);

function buildPanel(p) {
    const col = COLS[p.col];
    const row = ROWS[p.row];
    const canvas = document.createElement("canvas");
    canvas.width = col.yW + col.w;
    canvas.height = TITLE_H + row.h + XAXIS_H;
    canvas.style.left = col.left + "px";
    canvas.style.top = row.plotTop - TITLE_H + "px";
    document.getElementById("page").appendChild(canvas);

    const datasets = [];
    if (p.refs) {
        datasets.push({
            label: "Local-only",
            data: [{ x: -5, y: p.refs[0] }, { x: 105, y: p.refs[0] }],
            borderColor: "#555555",
            borderWidth: 1.3,
            borderDash: [5, 3],
            pointRadius: 0,
            order: 5,
        });
        datasets.push({
            label: "VFL-only",
            data: [{ x: -5, y: p.refs[1] }, { x: 105, y: p.refs[1] }],
            borderColor: "#333333",
            borderWidth: 1.3,
            pointRadius: 0,
            order: 5,
        });
    }

    SERIES.forEach((s, i) => {
        const [xs, ys] = p.series[i];
        datasets.push({
            label: s.label,
            data: xs.map((x, k) => ({ x: x, y: ys[k] })),
            borderColor: s.color,
            backgroundColor: s.color,
            borderWidth: 2.4,
            pointStyle: s.style,
            pointRadius: s.r,
            pointBorderWidth: 0,
            fill: false,
            order: s.order,
        });
    });

    SERIES.forEach((s, i) => {
        const band = p.series[i][2];
        datasets.push({
            data: band.map((b) => ({ x: b[0], y: b[2] })),
            borderWidth: 0,
            pointRadius: 0,
            fill: false,
            order: 10,
        });
        datasets.push({
            data: band.map((b) => ({ x: b[0], y: b[1] })),
            borderWidth: 0,
            pointRadius: 0,
            fill: "-1",
            backgroundColor: s.band,
            order: 10,
        });
    });

    new Chart(canvas, {
        type: "line",
        data: { datasets: datasets },
        options: {
            responsive: false,
            animation: false,
            devicePixelRatio: 1,
            layout: { padding: 0 },
            elements: { line: { tension: 0 } },
            plugins: {
                legend: { display: false },
                tooltip: { enabled: false },
                title: {
                    display: true,
                    text: p.title,
                    fullSize: false,
                    color: "#222",
                    font: { family: FONT, size: 11.5, weight: "normal", lineHeight: 1.07 },
                    padding: { top: 7, bottom: 2.4 },
                },
                boxLegend: { loc: p.legend },
            },
            scales: {
                x: axis(-5, 105, 20, 5, "Escalation rate (%)", 4, XAXIS_H, true),
                y: axis(p.y[0], p.y[1], p.y[2], p.y[3], p.yTitle, p.yPad, col.yW, false),
            },
        },
    });
}

PANELS.forEach(buildPanel);
</script>
</body>
</html>
